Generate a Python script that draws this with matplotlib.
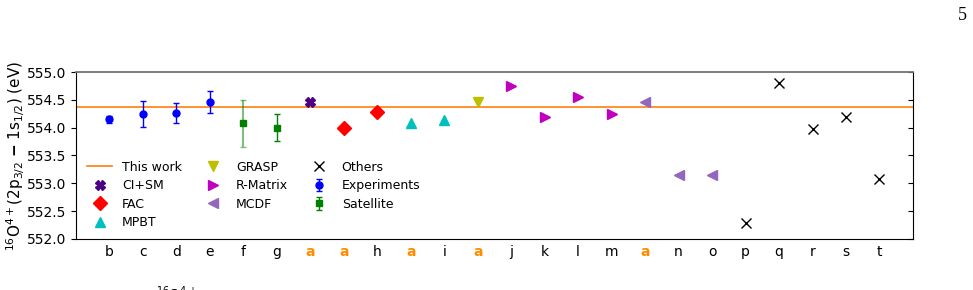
import numpy as np
import matplotlib
matplotlib.use("Agg")
import matplotlib.pyplot as plt

# etiquetas del eje x (las "a" son este trabajo / mismas referencias)
labels = ["b", "c", "d", "e", "f", "g", "a", "a", "h", "a", "i", "a",
          "j", "k", "l", "m", "a", "n", "o", "p", "q", "r", "s", "t"]

this_work = 554.38

# experimentos
exp_x = [1, 2, 3, 4]
exp_y = [554.15, 554.245, 554.26, 554.455]
exp_err = [0.06, 0.24, 0.18, 0.20]

# satelite
sat_x = [5, 6]
sat_y = [554.08, 554.0]
sat_err = [0.42, 0.245]

cism_x = [7]
cism_y = [554.455]

fac_x = [8, 9]
fac_y = [553.99, 554.29]

mpbt_x = [10, 11]
mpbt_y = [554.09, 554.14]

grasp_x = [12]
grasp_y = [554.47]

rmat_x = [13, 14, 15, 16]
rmat_y = [554.74, 554.19, 554.55, 554.25]

mcdf_x = [17, 18, 19]
mcdf_y = [554.47, 553.15, 553.15]

others_x = [20, 21, 22, 23, 24]
others_y = [552.29, 554.80, 553.97, 554.20, 553.08]

fig = plt.figure(figsize=(9.73, 2.90), dpi=100)
ax = fig.add_axes([0.0781, 0.1759, 0.8602, 0.5758])

ax.axhline(this_work, color="tab:orange", lw=1.2, label="This work")
ax.plot(cism_x, cism_y, "X", color="indigo", ms=7, ls="none", label="CI+SM")
ax.plot(fac_x, fac_y, "D", color="red", ms=7, ls="none", label="FAC")
ax.plot(mpbt_x, mpbt_y, "^", color="c", ms=7, ls="none", label="MPBT")
ax.plot(grasp_x, grasp_y, "v", color="y", ms=7, ls="none", label="GRASP")
ax.plot(rmat_x, rmat_y, ">", color="m", ms=7, ls="none", label="R-Matrix")
ax.plot(mcdf_x, mcdf_y, "<", color="tab:purple", ms=7, ls="none", label="MCDF")
ax.plot(others_x, others_y, "x", color="k", ms=7, ls="none", label="Others")
ax.errorbar(exp_x, exp_y, yerr=exp_err, fmt="o", color="blue", ms=5,
            capsize=2, elinewidth=1, label="Experiments")
ax.errorbar(sat_x[1:], sat_y[1:], yerr=sat_err[1:], fmt="s", color="green", ms=5,
            capsize=2, elinewidth=1, label="Satellite")
# la barra de f sale mas clara
ax.errorbar(sat_x[:1], sat_y[:1], yerr=sat_err[:1], fmt="none", ecolor="green",
            alpha=0.5, capsize=2, elinewidth=1.5)
ax.plot(sat_x[:1], sat_y[:1], "s", color="green", ms=5)

ax.set_xlim(0, 25)
ax.set_ylim(552.0, 555.0)
ax.set_xticks(np.arange(1, len(labels) + 1))
ax.set_xticklabels(labels, fontsize=10)
for t in ax.get_xticklabels():
    if t.get_text() == "a":
        t.set_color("darkorange")
        t.set_fontweight("bold")
ax.tick_params(axis="x", length=0, pad=4)
ax.tick_params(axis="y", labelsize=10, right=True, which="both")
ax.yaxis.set_major_locator(plt.MultipleLocator(0.5))
ax.yaxis.set_major_formatter(plt.FormatStrFormatter("%.1f"))
ax.spines["top"].set_color("0.45")
ax.spines["top"].set_linewidth(1.3)
for tk in ax.yaxis.get_major_ticks():
    tk.tick2line.set_marker(matplotlib.lines.TICKLEFT)

ax.set_ylabel(r"$^{16}$O$^{4+}$(2p$_{3/2}$ $\mathbf{-}$ 1s$_{1/2}$) (eV)",
              fontsize=11, labelpad=0)

ax.legend(ncol=3, loc="lower left", frameon=False, fontsize=9,
          bbox_to_anchor=(0.0, -0.01), handlelength=2.0, columnspacing=1.5,
          labelspacing=0.45)

fig.text(0.994, 0.93, "5", fontsize=13, family="Liberation Serif", ha="right")
fig.text(0.16, -0.012, r"$^{16}$O$^{4+}$", fontsize=10, va="center")

fig.savefig("out.png", dpi=100)
